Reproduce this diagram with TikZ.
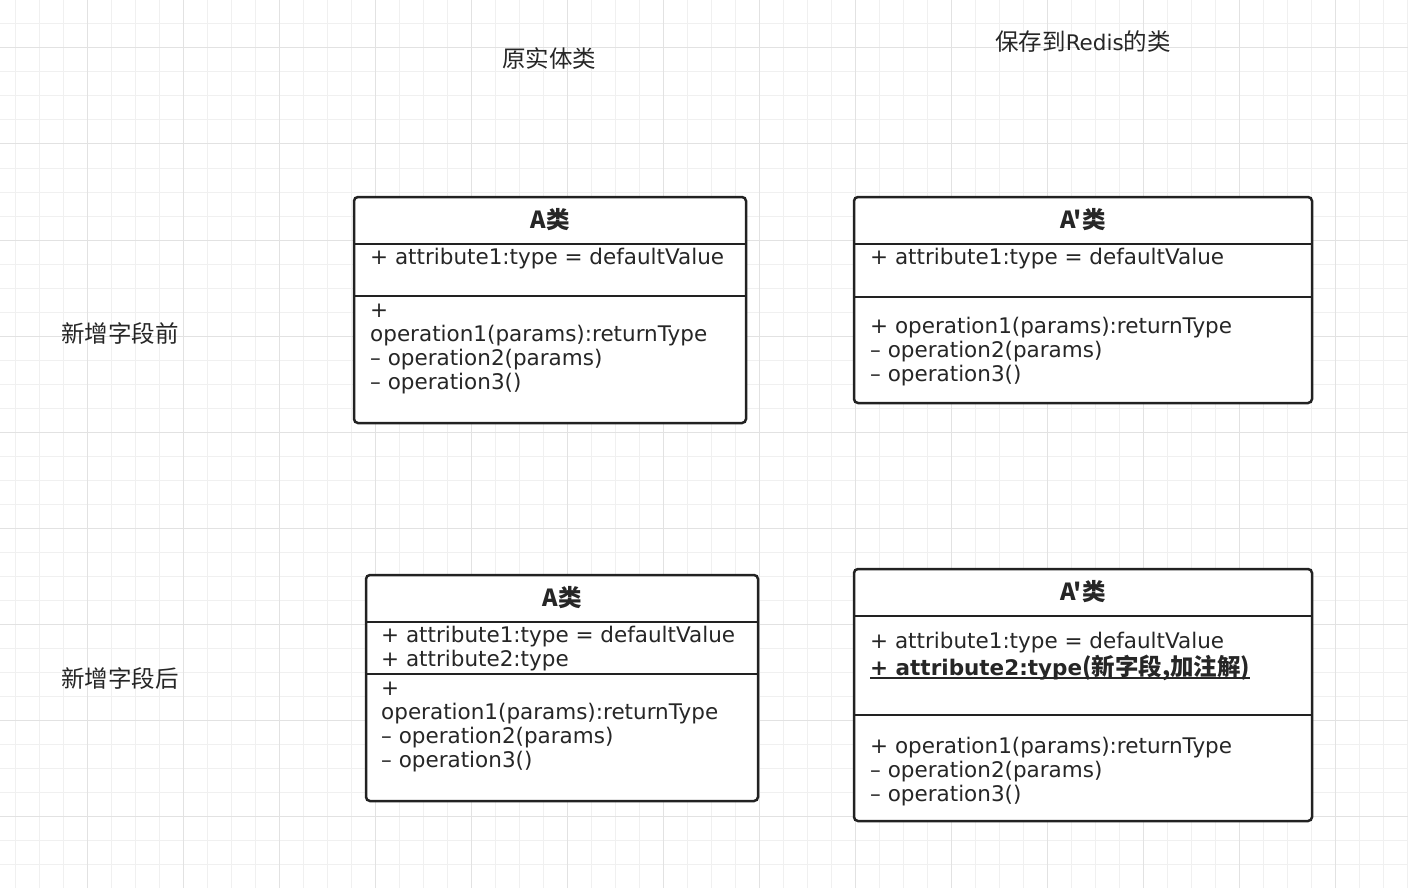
\documentclass[tikz,border=0pt]{standalone}
\usepackage{fontspec}
\setmainfont{DejaVu Sans}
\newfontfamily\cjk{Noto Sans CJK SC}
\usetikzlibrary{positioning}
\definecolor{umlline}{RGB}{34, 34, 34}
\definecolor{gridminor}{RGB}{240, 240, 240}
\definecolor{gridmajor}{RGB}{226, 226, 226}
\newcommand{\zh}[1]{{\cjk\fontsize{23.5}{24}\selectfont #1}}
\newcommand{\ulfield}[1]{\setbox0\hbox{#1}\rlap{\rule[-3pt]{\wd0}{1.4pt}}\box0}

\tikzset{
	classbox/.style={draw=umlline, line width=2.5pt, rounded corners=4pt, fill=white},
	divider/.style={draw=umlline, line width=2.5pt},
	member/.style={anchor=base west, inner sep=0pt, text=black!85, font=\fontsize{21.5}{24}\selectfont},
	classname/.style={inner sep=0pt, text=black!85, font=\cjk\bfseries\fontsize{23.5}{24}\selectfont},
	caption/.style={inner sep=0pt, text=black!85, font=\cjk\fontsize{23.5}{24}\selectfont},
}

\begin{document}
\begin{tikzpicture}[x=1pt,y=-1pt]
	\useasboundingbox (0,0) rectangle (1408,888);
	\fill[white] (0,0) rectangle (1408,888);
	
	% background grid
	\foreach \x in {15,39,...,1407} \draw[gridminor, line width=1pt] (\x,0) -- (\x,888);
	\foreach \y in {0,24,...,888} \draw[gridminor, line width=1pt] (0,\y) -- (1408,\y);
	\foreach \x in {87,183,...,1335} \draw[gridmajor, line width=1pt] (\x,0) -- (\x,888);
	\foreach \y in {48,144,...,816} \draw[gridmajor, line width=1pt] (0,\y) -- (1408,\y);
	
	% captions
	\node[caption] (orig) at (549,58) {原实体类};
	\node[caption] (redis) at (1083,42) {保存到{\fontsize{21.5}{24}\selectfont\rmfamily Redis}的类};
	\node[caption] (before) at (120,334) {新增字段前};
	\node[caption] (after) at (120,679) {新增字段后};
	
	% A, before
	\draw[classbox] (354,197) rectangle (746,423);
	\draw[divider] (354,244) -- (746,244);
	\draw[divider] (354,296) -- (746,296);
	\node[classname] (aold) at (550,220) {A类};
	\node[member] (aoldattr) at (370,264) {\begin{tabular}[t]{@{}l@{}}+ attribute1:type = defaultValue\end{tabular}};
	\node[member] (aoldops) at (370,317) {\begin{tabular}[t]{@{}l@{}}+\\operation1(params):returnType\\– operation2(params)\\– operation3()\end{tabular}};
	
	% A', before
	\draw[classbox] (854,197) rectangle (1312,403);
	\draw[divider] (854,244) -- (1312,244);
	\draw[divider] (854,297) -- (1312,297);
	\node[classname] (bold) at (1083,220) {A'类};
	\node[member] (boldattr) at (870,264) {\begin{tabular}[t]{@{}l@{}}+ attribute1:type = defaultValue\end{tabular}};
	\node[member] (boldops) at (870,333) {\begin{tabular}[t]{@{}l@{}}+ operation1(params):returnType\\– operation2(params)\\– operation3()\end{tabular}};
	
	% A, after
	\draw[classbox] (366,575) rectangle (758,801);
	\draw[divider] (366,622) -- (758,622);
	\draw[divider] (366,674) -- (758,674);
	\node[classname] (anew) at (562,598) {A类};
	\node[member] (anewattr) at (381,642) {\begin{tabular}[t]{@{}l@{}}+ attribute1:type = defaultValue\\+ attribute2:type\end{tabular}};
	\node[member] (anewops) at (381,695) {\begin{tabular}[t]{@{}l@{}}+\\operation1(params):returnType\\– operation2(params)\\– operation3()\end{tabular}};
	
	% A', after
	\draw[classbox] (854,569) rectangle (1312,821);
	\draw[divider] (854,616) -- (1312,616);
	\draw[divider] (854,715) -- (1312,715);
	\node[classname] (bnew) at (1083,592) {A'类};
	\node[member] (bnewattr) at (870,648) {\begin{tabular}[t]{@{}l@{}}+ attribute1:type = defaultValue\\\ulfield{\bfseries + attribute2:type\zh{(新字段,加注解)}}\end{tabular}};
	\node[member] (bnewops) at (870,753) {\begin{tabular}[t]{@{}l@{}}+ operation1(params):returnType\\– operation2(params)\\– operation3()\end{tabular}};
\end{tikzpicture}
\end{document}
